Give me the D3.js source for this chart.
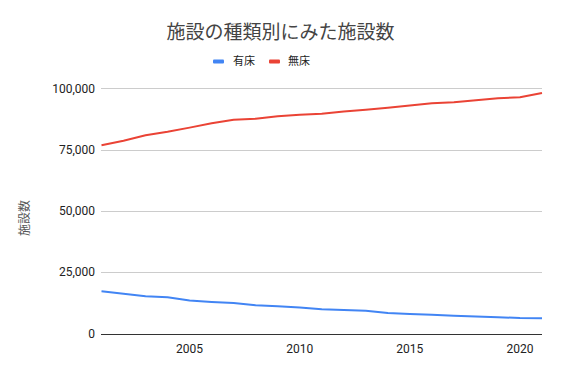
<!DOCTYPE html>
<html><head><meta charset="utf-8">
<script src="https://cdn.jsdelivr.net/npm/d3@7"></script>
<style>
body{margin:0;background:#fff;}
text{font-family:Roboto,"Noto Sans CJK JP",sans-serif;}
</style></head>
<body><svg id="c" width="561" height="373"></svg>
<script>
const years = [2001,2002,2003,2004,2005,2006,2007,2008,2009,2010,2011,2012,2013,2014,2015,2016,2017,2018,2019,2020,2021];
const yuusho = [17218,16178,15204,14765,13477,12858,12399,11500,11072,10620,9934,9596,9249,8355,7961,7629,7202,6934,6644,6303,6169];
const musho = [76801,78641,80846,82286,83965,85751,87133,87583,88563,89204,89613,90556,91279,92106,93034,93900,94269,95171,95972,96309,98123];
const yTicks = [0,25000,50000,75000,100000];
const xTicks = [2005,2010,2015,2020];
const seriesNames = ["有床","無床"];
const colors = ["#4285F4","#EA4335"];
const title = "施設の種類別にみた施設数";
const yLabel = "施設数";

const svg = d3.select("#c");
const x = d3.scaleLinear().domain([2001,2021]).range([101.5,542]);
const y = d3.scaleLinear().domain([0,100000]).range([333.5,88.3]);

// grid
svg.append("g").selectAll("line").data(yTicks.filter(d=>d>0)).join("line")
  .attr("x1",101).attr("x2",542).attr("y1",d=>Math.round(y(d))+0.5).attr("y2",d=>Math.round(y(d))+0.5)
  .attr("stroke","#cccccc").attr("stroke-width",1);

// y tick labels
svg.append("g").selectAll("text").data(yTicks).join("text")
  .attr("x",95).attr("y",d=>y(d)).attr("dy","0.35em").attr("text-anchor","end")
  .attr("font-size",12).attr("fill","#222").text(d=>d3.format(",")(d));

// x axis labels
svg.append("g").selectAll("text").data(xTicks).join("text")
  .attr("x",d=>x(d)).attr("y",353).attr("text-anchor","middle")
  .attr("font-size",12).attr("fill","#222").text(d=>d);

// lines
const line = d3.line().x((d,i)=>x(years[i])).y(d=>y(d));
[yuusho,musho].forEach((s,k)=>{
  svg.append("path").datum(s).attr("d",line).attr("fill","none")
    .attr("stroke",colors[k]).attr("stroke-width",2).attr("stroke-linejoin","round");
});

// baseline
svg.append("line").attr("x1",101).attr("x2",542).attr("y1",Math.round(y(0))+0.5).attr("y2",Math.round(y(0))+0.5)
  .attr("stroke","#333").attr("stroke-width",1);

// title
svg.append("text").attr("x",280.5).attr("y",39).attr("text-anchor","middle")
  .attr("font-family","'Noto Sans CJK JP',sans-serif").attr("font-size",19).attr("fill","#444").text(title);

// legend
const leg = [{sx:213,tx:233},{sx:269,tx:288}];
seriesNames.forEach((n,i)=>{
  svg.append("rect").attr("x",leg[i].sx).attr("y",59.5).attr("width",11).attr("height",4).attr("rx",1).attr("fill",colors[i]);
  svg.append("text").attr("x",leg[i].tx).attr("y",61.5).attr("dy","0.35em")
    .attr("font-family","'Noto Sans CJK JP',sans-serif").attr("font-size",11).attr("fill","#222").text(n);
});

// y label
svg.append("text").attr("transform","translate(29,218) rotate(-90)").attr("text-anchor","middle")
  .attr("font-family","'Noto Sans CJK JP',sans-serif").attr("font-size",12).attr("fill","#555").text(yLabel);
</script></body></html>
